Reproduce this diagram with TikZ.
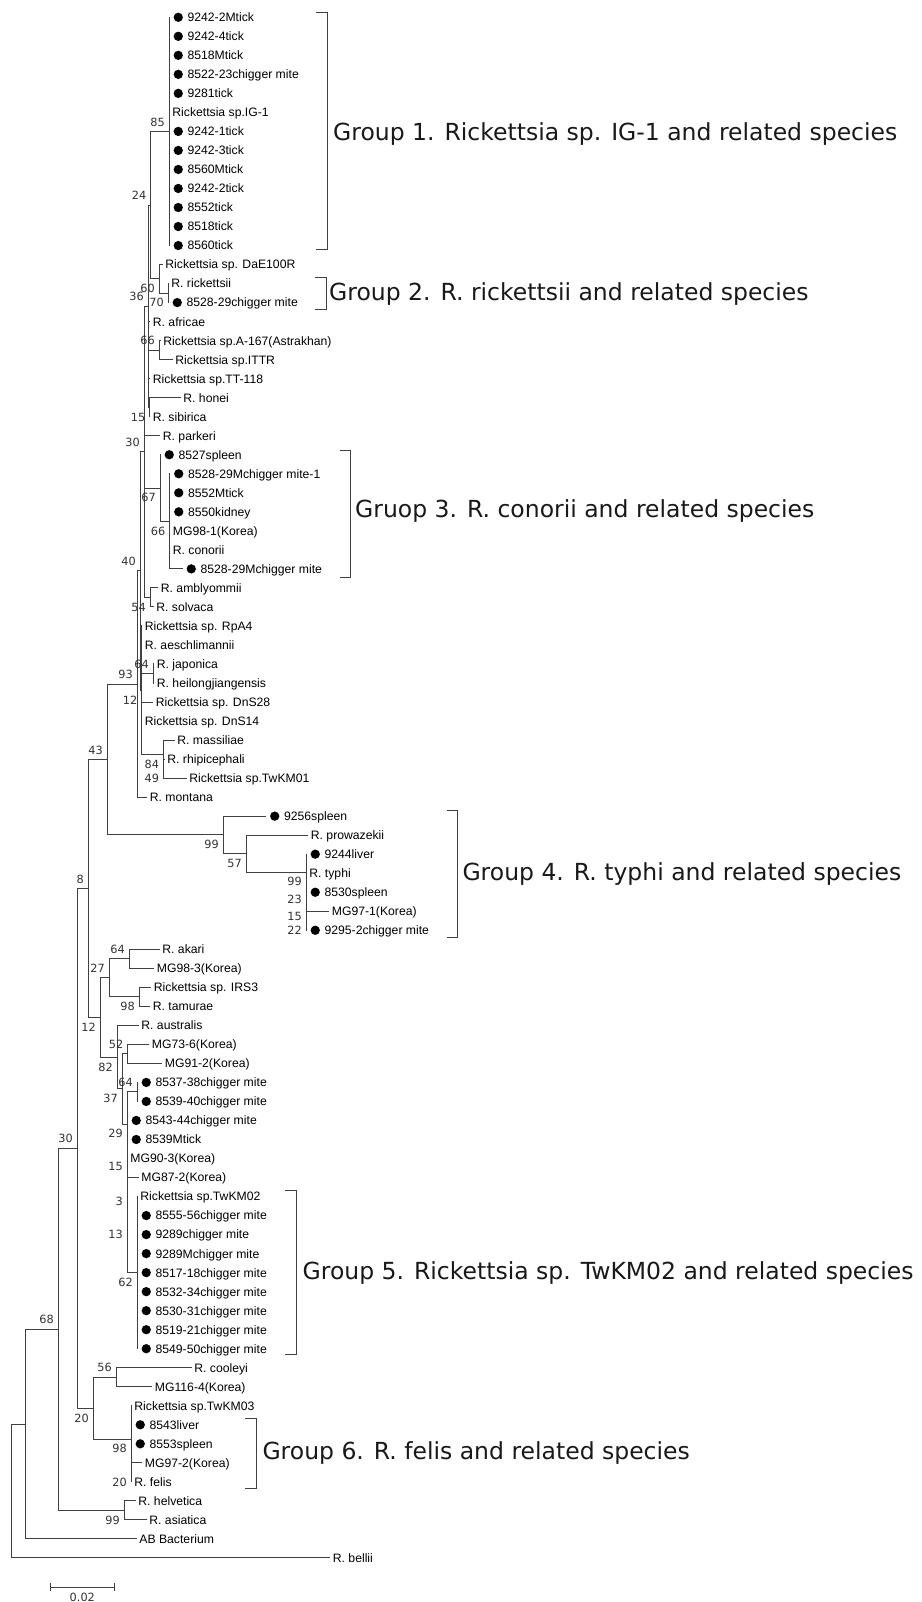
\documentclass[tikz,border=0pt]{standalone}
\usepackage{fontspec}
\setmainfont{Liberation Sans}
\newfontfamily\vfont{DejaVu Sans}
\usetikzlibrary{positioning}

%% row of leaf i (1 = top)
\newcommand{\rw}[1]{19.02*#1-1.72}

\tikzset{
    br/.style={line width=1pt, black!75, line cap=rect},
    lbl/.style={anchor=west, inner sep=0pt, text height=8.8pt, text depth=0pt,
        font=\fontsize{12.2}{14}\selectfont},
    dot/.style={circle, fill=black, inner sep=0pt, minimum size=9.3pt},
    dlbl/.style={lbl, label={[dot, label distance=4.3pt]180:{}}},
    bs/.style={anchor=east, inner sep=0pt, text height=8.2pt, text depth=0pt,
        font=\vfont\fontsize{11.3}{13}\selectfont, black!80, xshift=-4pt},
    bsu/.style={bs, yshift=9.5pt},
    bsd/.style={bs, yshift=-9.8pt},
    grp/.style={anchor=west, inner sep=0pt, text height=17.1pt, text depth=0pt,
        font=\vfont\fontsize{23.5}{28}\selectfont, black!90},
}

\begin{document}
\begin{tikzpicture}[x=1pt,y=-1pt]
    \useasboundingbox (0,0) rectangle (921,1602);
    \fill[white] (0,0) rectangle (921,1602);

    %% leaf tips
    \coordinate (t1) at (169,{\rw{1}});
    \coordinate (t2) at (169,{\rw{2}});
    \coordinate (t3) at (169,{\rw{3}});
    \coordinate (t4) at (169,{\rw{4}});
    \coordinate (t5) at (169,{\rw{5}});
    \coordinate (t6) at (169,{\rw{6}});
    \coordinate (t7) at (169,{\rw{7}});
    \coordinate (t8) at (169,{\rw{8}});
    \coordinate (t9) at (169,{\rw{9}});
    \coordinate (t10) at (169,{\rw{10}});
    \coordinate (t11) at (169,{\rw{11}});
    \coordinate (t12) at (169,{\rw{12}});
    \coordinate (t13) at (169,{\rw{13}});
    \coordinate (t14) at (162,{\rw{14}});
    \coordinate (t15) at (168,{\rw{15}});
    \coordinate (t16) at (168,{\rw{16}});
    \coordinate (t17) at (149.5,{\rw{17}});
    \coordinate (t18) at (160,{\rw{18}});
    \coordinate (t19) at (172,{\rw{19}});
    \coordinate (t20) at (149.5,{\rw{20}});
    \coordinate (t21) at (180,{\rw{21}});
    \coordinate (t22) at (149.5,{\rw{22}});
    \coordinate (t23) at (159.5,{\rw{23}});
    \coordinate (t24) at (160,{\rw{24}});
    \coordinate (t25) at (169.5,{\rw{25}});
    \coordinate (t26) at (169.5,{\rw{26}});
    \coordinate (t27) at (169.5,{\rw{27}});
    \coordinate (t28) at (169.5,{\rw{28}});
    \coordinate (t29) at (169.5,{\rw{29}});
    \coordinate (t30) at (182,{\rw{30}});
    \coordinate (t31) at (157.5,{\rw{31}});
    \coordinate (t32) at (153,{\rw{32}});
    \coordinate (t33) at (141.5,{\rw{33}});
    \coordinate (t34) at (141.5,{\rw{34}});
    \coordinate (t35) at (153.5,{\rw{35}});
    \coordinate (t36) at (153.5,{\rw{36}});
    \coordinate (t37) at (152.5,{\rw{37}});
    \coordinate (t38) at (141.5,{\rw{38}});
    \coordinate (t39) at (174,{\rw{39}});
    \coordinate (t40) at (164,{\rw{40}});
    \coordinate (t41) at (186,{\rw{41}});
    \coordinate (t42) at (146.5,{\rw{42}});
    \coordinate (t43) at (265.5,{\rw{43}});
    \coordinate (t44) at (307.5,{\rw{44}});
    \coordinate (t45) at (306,{\rw{45}});
    \coordinate (t46) at (306,{\rw{46}});
    \coordinate (t47) at (306,{\rw{47}});
    \coordinate (t48) at (328.5,{\rw{48}});
    \coordinate (t49) at (306,{\rw{49}});
    \coordinate (t50) at (159,{\rw{50}});
    \coordinate (t51) at (153.5,{\rw{51}});
    \coordinate (t52) at (150.5,{\rw{52}});
    \coordinate (t53) at (149.5,{\rw{53}});
    \coordinate (t54) at (138,{\rw{54}});
    \coordinate (t55) at (148.5,{\rw{55}});
    \coordinate (t56) at (161.5,{\rw{56}});
    \coordinate (t57) at (137,{\rw{57}});
    \coordinate (t58) at (137,{\rw{58}});
    \coordinate (t59) at (127,{\rw{59}});
    \coordinate (t60) at (127,{\rw{60}});
    \coordinate (t61) at (127,{\rw{61}});
    \coordinate (t62) at (138,{\rw{62}});
    \coordinate (t63) at (137,{\rw{63}});
    \coordinate (t64) at (137,{\rw{64}});
    \coordinate (t65) at (137,{\rw{65}});
    \coordinate (t66) at (137,{\rw{66}});
    \coordinate (t67) at (137,{\rw{67}});
    \coordinate (t68) at (137,{\rw{68}});
    \coordinate (t69) at (137,{\rw{69}});
    \coordinate (t70) at (137,{\rw{70}});
    \coordinate (t71) at (137,{\rw{71}});
    \coordinate (t72) at (191,{\rw{72}});
    \coordinate (t73) at (151.5,{\rw{73}});
    \coordinate (t74) at (131,{\rw{74}});
    \coordinate (t75) at (131,{\rw{75}});
    \coordinate (t76) at (131,{\rw{76}});
    \coordinate (t77) at (141.5,{\rw{77}});
    \coordinate (t78) at (131,{\rw{78}});
    \coordinate (t79) at (135,{\rw{79}});
    \coordinate (t80) at (146,{\rw{80}});
    \coordinate (t81) at (136,{\rw{81}});
    \coordinate (t82) at (329.5,{\rw{82}});

    %% inner nodes
    \coordinate (b85) at (169,{\rw{7}});
    \coordinate (b70) at (168,{\rw{15.5}});
    \coordinate (b60) at (159,{\rw{14.75}});
    \coordinate (b24) at (150.5,{\rw{10.875}});
    \coordinate (b66a) at (159,{\rw{18.5}});
    \coordinate (b15a) at (149.5,{\rw{21.5}});
    \coordinate (b36) at (148,{\rw{16.1875}});
    \coordinate (b66b) at (169.5,{\rw{27.5}});
    \coordinate (b67) at (160,{\rw{25.75}});
    \coordinate (b54) at (150,{\rw{31.5}});
    \coordinate (b30a) at (144,{\rw{23.84375}});
    \coordinate (b64a) at (153,{\rw{35.5}});
    \coordinate (b49) at (163.3,{\rw{40.5}});
    \coordinate (b84) at (163.3,{\rw{39.75}});
    \coordinate (b12a) at (141.5,{\rw{36.375}});
    \coordinate (b40) at (140,{\rw{30.109375}});
    \coordinate (b93) at (137,{\rw{36.0546875}});
    \coordinate (b22) at (306,{\rw{48.5}});
    \coordinate (b15b) at (306,{\rw{47.75}});
    \coordinate (b23) at (306,{\rw{46.875}});
    \coordinate (b99b) at (306,{\rw{45.9375}});
    \coordinate (b57) at (246,{\rw{44.96875}});
    \coordinate (b99a) at (223,{\rw{43.984375}});
    \coordinate (b43) at (107,{\rw{40.01953125}});
    \coordinate (b64b) at (129,{\rw{50.5}});
    \coordinate (b98a) at (139,{\rw{52.5}});
    \coordinate (b27) at (109,{\rw{51.5}});
    \coordinate (b52) at (127.5,{\rw{55.5}});
    \coordinate (b64c) at (137,{\rw{57.5}});
    \coordinate (b62) at (137,{\rw{67}});
    \coordinate (b13) at (127,{\rw{64.5}});
    \coordinate (b3) at (127,{\rw{62.75}});
    \coordinate (b15c) at (127,{\rw{60.875}});
    \coordinate (b29) at (127,{\rw{59.1875}});
    \coordinate (b37) at (122,{\rw{57.34375}});
    \coordinate (b82) at (117,{\rw{55.671875}});
    \coordinate (b12b) at (100,{\rw{53.5859375}});
    \coordinate (b8) at (88,{\rw{46.802734375}});
    \coordinate (b56) at (116,{\rw{72.5}});
    \coordinate (b20b) at (131,{\rw{77.5}});
    \coordinate (b98b) at (131,{\rw{75.75}});
    \coordinate (b20a) at (93,{\rw{74.125}});
    \coordinate (b30b) at (77,{\rw{60.4638671875}});
    \coordinate (b99c) at (124,{\rw{79.5}});
    \coordinate (b68) at (58,{\rw{69.9819336}});
    \coordinate (nab) at (25,{\rw{74.96}});
    \coordinate (root) at (11,{\rw{78.48}});

    %% branches
    \draw[br] (root) |- (nab) (root) |- (t82);
    \draw[br] (nab) |- (b68) (nab) |- (t81);
    \draw[br] (b68) |- (b30b) (b68) |- (b99c);
    \draw[br] (b99c) |- (t79) (b99c) |- (t80);
    \draw[br] (b30b) |- (b8) (b30b) |- (b20a);
    \draw[br] (b20a) |- (b56) (b20a) |- (b98b);
    \draw[br] (b56) |- (t72) (b56) |- (t73);
    \draw[br] (b98b) |- (t74) (b98b) |- (t75) (b98b) |- (t76) (b98b) |- (b20b);
    \draw[br] (b20b) |- (t77) (b20b) |- (t78);
    \draw[br] (b8) |- (b43) (b8) |- (b12b);
    \draw[br] (b12b) |- (b27) (b12b) |- (b82);
    \draw[br] (b27) |- (b64b) (b27) |- (b98a);
    \draw[br] (b64b) |- (t50) (b64b) |- (t51);
    \draw[br] (b98a) |- (t52) (b98a) |- (t53);
    \draw[br] (b82) |- (t54) (b82) |- (b37);
    \draw[br] (b37) |- (b52) (b37) |- (b29);
    \draw[br] (b52) |- (t55) (b52) |- (t56);
    \draw[br] (b29) |- (b64c) (b29) |- (b15c);
    \draw[br] (b64c) |- (t57) (b64c) |- (t58);
    \draw[br] (b15c) |- (t59) (b15c) |- (t60) (b15c) |- (b3);
    \draw[br] (b3) |- (t61) (b3) |- (b13);
    \draw[br] (b13) |- (t62) (b13) |- (b62);
    \draw[br] (b62) |- (t63) (b62) |- (t71);
    \draw[br] (b43) |- (b93) (b43) |- (b99a);
    \draw[br] (b99a) |- (t43) (b99a) |- (b57);
    \draw[br] (b57) |- (t44) (b57) |- (b99b);
    \draw[br] (b99b) |- (t45) (b99b) |- (b23);
    \draw[br] (b23) |- (t46) (b23) |- (b15b);
    \draw[br] (b15b) |- (t47) (b15b) |- (b22);
    \draw[br] (b22) |- (t48) (b22) |- (t49);
    \draw[br] (b93) |- (b40) (b93) |- (t42);
    \draw[br] (b40) |- (b30a) (b40) |- (b12a);
    \draw[br] (b12a) |- (t33) (b12a) |- (b64a) (b12a) |- (t37) (b12a) |- (b84);
    \draw[br] (b64a) |- (t35) (b64a) |- (t36);
    \draw[br] (b84) |- (t39) (b84) |- (b49);
    \draw[br] (b49) |- (t40) (b49) |- (t41);
    \draw[br] (b30a) |- (b36) (b30a) |- (t23) (b30a) |- (b67) (b30a) |- (b54);
    \draw[br] (b54) |- (t31) (b54) |- (t32);
    \draw[br] (b67) |- (t24) (b67) |- (b66b);
    \draw[br] (b66b) |- (t25) (b66b) |- (t30);
    \draw[br] (b36) |- (b24) (b36) |- (t17) (b36) |- (b66a) (b36) |- (t20) (b36) |- (b15a);
    \draw[br] (b15a) |- (t21) (b15a) |- (t22);
    \draw[br] (b66a) |- (t18) (b66a) |- (t19);
    \draw[br] (b24) |- (b85) (b24) |- (b60);
    \draw[br] (b60) |- (t14) (b60) |- (b70);
    \draw[br] (b70) |- (t15) (b70) |- (t16);
    \draw[br] (b85) |- (t1) (b85) |- (t13);

    %% leaf names
    \node[dlbl, right=18.4pt of t1] (l1) {9242-2Mtick};
    \node[dlbl, right=18.4pt of t2] (l2) {9242-4tick};
    \node[dlbl, right=18.4pt of t3] (l3) {8518Mtick};
    \node[dlbl, right=18.4pt of t4] (l4) {8522-23chigger mite};
    \node[dlbl, right=18.4pt of t5] (l5) {9281tick};
    \node[lbl, right=3.2pt of t6] (l6) {Rickettsia sp.IG-1};
    \node[dlbl, right=18.4pt of t7] (l7) {9242-1tick};
    \node[dlbl, right=18.4pt of t8] (l8) {9242-3tick};
    \node[dlbl, right=18.4pt of t9] (l9) {8560Mtick};
    \node[dlbl, right=18.4pt of t10] (l10) {9242-2tick};
    \node[dlbl, right=18.4pt of t11] (l11) {8552tick};
    \node[dlbl, right=18.4pt of t12] (l12) {8518tick};
    \node[dlbl, right=18.4pt of t13] (l13) {8560tick};
    \node[lbl, right=3.2pt of t14] (l14) {Rickettsia sp. DaE100R};
    \node[lbl, right=3.2pt of t15] (l15) {R. rickettsii};
    \node[dlbl, right=18.4pt of t16] (l16) {8528-29chigger mite};
    \node[lbl, right=3.2pt of t17] (l17) {R. africae};
    \node[lbl, right=3.2pt of t18] (l18) {Rickettsia sp.A-167(Astrakhan)};
    \node[lbl, right=3.2pt of t19] (l19) {Rickettsia sp.ITTR};
    \node[lbl, right=3.2pt of t20] (l20) {Rickettsia sp.TT-118};
    \node[lbl, right=3.2pt of t21] (l21) {R. honei};
    \node[lbl, right=3.2pt of t22] (l22) {R. sibirica};
    \node[lbl, right=3.2pt of t23] (l23) {R. parkeri};
    \node[dlbl, right=18.4pt of t24] (l24) {8527spleen};
    \node[dlbl, right=18.4pt of t25] (l25) {8528-29Mchigger mite-1};
    \node[dlbl, right=18.4pt of t26] (l26) {8552Mtick};
    \node[dlbl, right=18.4pt of t27] (l27) {8550kidney};
    \node[lbl, right=3.2pt of t28] (l28) {MG98-1(Korea)};
    \node[lbl, right=3.2pt of t29] (l29) {R. conorii};
    \node[dlbl, right=18.4pt of t30] (l30) {8528-29Mchigger mite};
    \node[lbl, right=3.2pt of t31] (l31) {R. amblyommii};
    \node[lbl, right=3.2pt of t32] (l32) {R. solvaca};
    \node[lbl, right=3.2pt of t33] (l33) {Rickettsia sp. RpA4};
    \node[lbl, right=3.2pt of t34] (l34) {R. aeschlimannii};
    \node[lbl, right=3.2pt of t35] (l35) {R. japonica};
    \node[lbl, right=3.2pt of t36] (l36) {R. heilongjiangensis};
    \node[lbl, right=3.2pt of t37] (l37) {Rickettsia sp. DnS28};
    \node[lbl, right=3.2pt of t38] (l38) {Rickettsia sp. DnS14};
    \node[lbl, right=3.2pt of t39] (l39) {R. massiliae};
    \node[lbl, right=3.2pt of t40] (l40) {R. rhipicephali};
    \node[lbl, right=3.2pt of t41] (l41) {Rickettsia sp.TwKM01};
    \node[lbl, right=3.2pt of t42] (l42) {R. montana};
    \node[dlbl, right=18.4pt of t43] (l43) {9256spleen};
    \node[lbl, right=3.2pt of t44] (l44) {R. prowazekii};
    \node[dlbl, right=18.4pt of t45] (l45) {9244liver};
    \node[lbl, right=3.2pt of t46] (l46) {R. typhi};
    \node[dlbl, right=18.4pt of t47] (l47) {8530spleen};
    \node[lbl, right=3.2pt of t48] (l48) {MG97-1(Korea)};
    \node[dlbl, right=18.4pt of t49] (l49) {9295-2chigger mite};
    \node[lbl, right=3.2pt of t50] (l50) {R. akari};
    \node[lbl, right=3.2pt of t51] (l51) {MG98-3(Korea)};
    \node[lbl, right=3.2pt of t52] (l52) {Rickettsia sp. IRS3};
    \node[lbl, right=3.2pt of t53] (l53) {R. tamurae};
    \node[lbl, right=3.2pt of t54] (l54) {R. australis};
    \node[lbl, right=3.2pt of t55] (l55) {MG73-6(Korea)};
    \node[lbl, right=3.2pt of t56] (l56) {MG91-2(Korea)};
    \node[dlbl, right=18.4pt of t57] (l57) {8537-38chigger mite};
    \node[dlbl, right=18.4pt of t58] (l58) {8539-40chigger mite};
    \node[dlbl, right=18.4pt of t59] (l59) {8543-44chigger mite};
    \node[dlbl, right=18.4pt of t60] (l60) {8539Mtick};
    \node[lbl, right=3.2pt of t61] (l61) {MG90-3(Korea)};
    \node[lbl, right=3.2pt of t62] (l62) {MG87-2(Korea)};
    \node[lbl, right=3.2pt of t63] (l63) {Rickettsia sp.TwKM02};
    \node[dlbl, right=18.4pt of t64] (l64) {8555-56chigger mite};
    \node[dlbl, right=18.4pt of t65] (l65) {9289chigger mite};
    \node[dlbl, right=18.4pt of t66] (l66) {9289Mchigger mite};
    \node[dlbl, right=18.4pt of t67] (l67) {8517-18chigger mite};
    \node[dlbl, right=18.4pt of t68] (l68) {8532-34chigger mite};
    \node[dlbl, right=18.4pt of t69] (l69) {8530-31chigger mite};
    \node[dlbl, right=18.4pt of t70] (l70) {8519-21chigger mite};
    \node[dlbl, right=18.4pt of t71] (l71) {8549-50chigger mite};
    \node[lbl, right=3.2pt of t72] (l72) {R. cooleyi};
    \node[lbl, right=3.2pt of t73] (l73) {MG116-4(Korea)};
    \node[lbl, right=3.2pt of t74] (l74) {Rickettsia sp.TwKM03};
    \node[dlbl, right=18.4pt of t75] (l75) {8543liver};
    \node[dlbl, right=18.4pt of t76] (l76) {8553spleen};
    \node[lbl, right=3.2pt of t77] (l77) {MG97-2(Korea)};
    \node[lbl, right=3.2pt of t78] (l78) {R. felis};
    \node[lbl, right=3.2pt of t79] (l79) {R. helvetica};
    \node[lbl, right=3.2pt of t80] (l80) {R. asiatica};
    \node[lbl, right=3.2pt of t81] (l81) {AB Bacterium};
    \node[lbl, right=3.2pt of t82] (l82) {R. bellii};

    %% bootstrap values
    \node[bsu] (v85) at (b85) {85};
    \node[bsu] (v24) at (b24) {24};
    \node[bsd] (v60) at (b60) {60};
    \node[bsd] (v70) at (b70) {70};
    \node[bsu] (v36) at (b36) {36};
    \node[bsu] (v66a) at (b66a) {66};
    \node[bsd] (v15a) at (b15a) {15};
    \node[bsu] (v30a) at (b30a) {30};
    \node[bsd] (v67) at (b67) {67};
    \node[bsd] (v66b) at (b66b) {66};
    \node[bsu] (v40) at (b40) {40};
    \node[bsd] (v54) at (b54) {54};
    \node[bsu] (v64a) at (b64a) {64};
    \node[bsd] (v12a) at (b12a) {12};
    \node[bsu] (v93) at (b93) {93};
    \node[bsd] (v84) at (b84) {84};
    \node[bsd] (v49) at (b49) {49};
    \node[bsu] (v43) at (b43) {43};
    \node[bsd] (v99a) at (b99a) {99};
    \node[bsd] (v57) at (b57) {57};
    \node[bsd] (v99b) at (b99b) {99};
    \node[bsd] (v23) at (b23) {23};
    \node[bsd] (v15b) at (b15b) {15};
    \node[bsd] (v22) at (b22) {22};
    \node[bsu] (v8) at (b8) {8};
    \node[bsu] (v64b) at (b64b) {64};
    \node[bsu] (v27) at (b27) {27};
    \node[bsd] (v98a) at (b98a) {98};
    \node[bsd] (v12b) at (b12b) {12};
    \node[bsd] (v82) at (b82) {82};
    \node[bsu] (v52) at (b52) {52};
    \node[bsd] (v37) at (b37) {37};
    \node[bsu] (v64c) at (b64c) {64};
    \node[bsd] (v29) at (b29) {29};
    \node[bsd] (v15c) at (b15c) {15};
    \node[bsd] (v3) at (b3) {3};
    \node[bsd] (v13) at (b13) {13};
    \node[bsd] (v62) at (b62) {62};
    \node[bsu] (v30b) at (b30b) {30};
    \node[bsu] (v56) at (b56) {56};
    \node[bsd] (v20a) at (b20a) {20};
    \node[bsd] (v98b) at (b98b) {98};
    \node[bsd] (v20b) at (b20b) {20};
    \node[bsu] (v68) at (b68) {68};
    \node[bsd] (v99c) at (b99c) {99};

    %% groups
    \draw[br] (316.7,12.5) -- (327.7,12.5) -- (327.7,249.5) -- (316.7,249.5);
    \node[grp] (g1) at (333,131.5) {Group 1. Rickettsia sp. IG-1 and related species};
    \draw[br] (315,278) -- (326,278) -- (326,310) -- (315,310);
    \node[grp] (g2) at (329,291.5) {Group 2. R. rickettsii and related species};
    \draw[br] (340,450) -- (350.6,450) -- (350.6,577) -- (340,577);
    \node[grp] (g3) at (355,509) {Gruop 3. R. conorii and related species};
    \draw[br] (447,810) -- (457.7,810) -- (457.7,937) -- (447,937);
    \node[grp] (g4) at (462.3,872) {Group 4. R. typhi and related species};
    \draw[br] (285.7,1190.7) -- (296.7,1190.7) -- (296.7,1354) -- (285.7,1354);
    \node[grp] (g5) at (302.5,1271) {Group 5. Rickettsia sp. TwKM02 and related species};
    \draw[br] (245.7,1418) -- (256.7,1418) -- (256.7,1488) -- (245.7,1488);
    \node[grp] (g6) at (262.3,1451) {Group 6. R. felis and related species};

    %% scale bar
    \coordinate (s0) at (50.7,1587);
    \coordinate (s1) at (114,1587);
    \draw[br] (s0) -- (s1);
    \draw[br] ([yshift=3.3pt]s0) -- ([yshift=-3.3pt]s0);
    \draw[br] ([yshift=3.3pt]s1) -- ([yshift=-3.3pt]s1);
    \node[bs, anchor=north, xshift=4pt] (sc) at (82.3,1593) {0.02};
\end{tikzpicture}
\end{document}
